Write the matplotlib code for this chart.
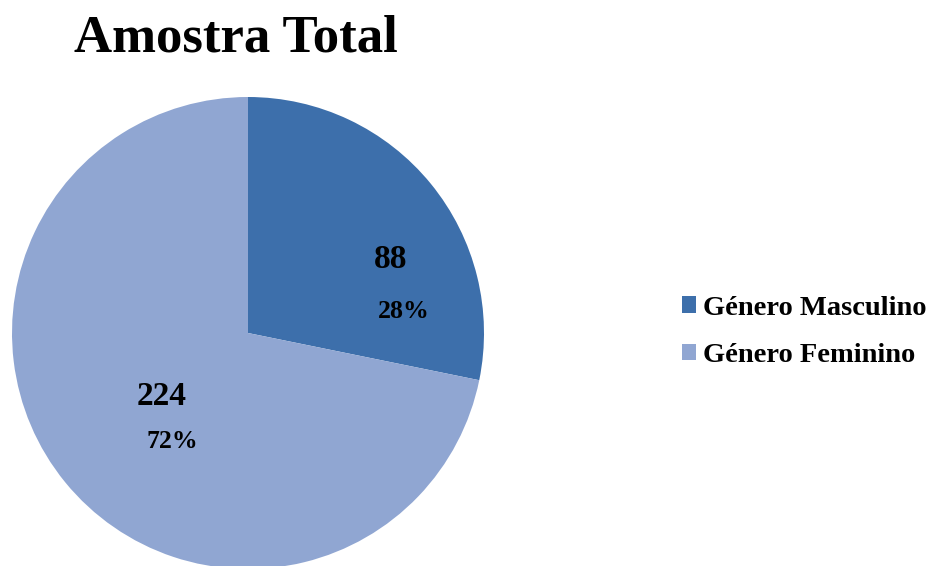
import matplotlib.pyplot as plt
from matplotlib.patches import Patch

categories = ['Género Masculino', 'Género Feminino']
counts = [88, 224]
colors = ['#3d6fab', '#90a6d2']

title = 'Amostra Total'
serif = 'Liberation Serif'

fig = plt.figure(figsize=(9.32, 5.66), dpi=100)
ax = fig.add_axes([12 / 932, -3 / 566, 472 / 932, 472 / 566])

wedges, _ = ax.pie(counts, colors=colors, startangle=90, counterclock=False,
                   radius=1.0, wedgeprops=dict(linewidth=0))
ax.set_xlim(-1, 1)
ax.set_ylim(-1, 1)
ax.set_aspect('equal')
ax.axis('off')

total = sum(counts)
# label spots (count on top, percentage below) inside each slice
spots = [(0.605, 0.31, 0.66, 0.09), (-0.365, -0.27, -0.32, -0.46)]
for n, (x1, y1, x2, y2) in zip(counts, spots):
    ax.text(x1, y1, str(n), ha='center', va='center', fontsize=24,
            fontweight='bold', family=serif)
    ax.text(x2, y2, f'{round(100 * n / total)}%', ha='center', va='center',
            fontsize=18.5, fontweight='bold', family=serif)

fig.text(236 / 932, 1 - 51 / 566, title, ha='center', va='baseline',
         fontsize=38, fontweight='bold', family=serif)

handles = [Patch(facecolor=c, edgecolor='none') for c in colors]
fig.legend(handles, categories, loc='center left',
           bbox_to_anchor=(682 / 932, 1 - 332 / 566), frameon=False,
           borderpad=0, borderaxespad=0, handlelength=0.5, handleheight=0.5,
           handletextpad=0.25, labelspacing=0.8,
           prop=dict(family=serif, weight='bold', size=20.5))

fig.savefig('out.png', dpi=100)
